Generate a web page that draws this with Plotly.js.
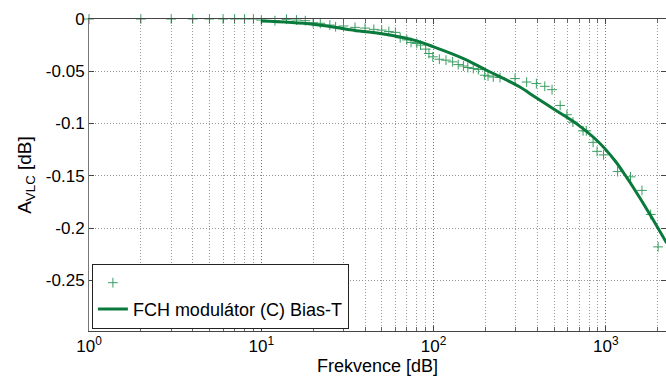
<!DOCTYPE html>
<html><head><meta charset="utf-8">
<script src="https://cdn.plot.ly/plotly-3.0.1.min.js"></script>
<style>body{margin:0;background:#fff}#c{width:666px;height:379px}</style>
</head><body><div id="c"></div>
<script>
const markerFreq = [1,2,3,4,5,6,7,8,9,10,12,14,16,18,20,22,25,27,30,35,40,45,50,55,60,64,70,74,80,84,90,94,99,108,118,129,139,149,158,170,182,198,207,222,243,297,347,395,442,487,543,594,644,737,770,843,889,970,1170,1390,1620,1820,2010];
const markerVal = [0,0,0,0,0,0,0,0,0,-0.001,-0.0016,-0.0003,-0.001,-0.0016,-0.0036,-0.0041,-0.0058,-0.0074,-0.0067,-0.008,-0.0087,-0.0099,-0.0106,-0.012,-0.0128,-0.018,-0.020,-0.0224,-0.0234,-0.025,-0.0288,-0.033,-0.0362,-0.0385,-0.0394,-0.041,-0.0436,-0.045,-0.0464,-0.0474,-0.0484,-0.0538,-0.0545,-0.0555,-0.056,-0.057,-0.0603,-0.0618,-0.0644,-0.0676,-0.0827,-0.0916,-0.0987,-0.107,-0.107,-0.118,-0.1266,-0.13,-0.146,-0.151,-0.164,-0.187,-0.218];
const lineFreq = [10,20,37,49,76,100,149,203,317,363,495,677,885,1130,1321,1443,1803,2254];
const lineVal = [-0.002,-0.005,-0.0115,-0.0138,-0.020,-0.0266,-0.0378,-0.049,-0.065,-0.0714,-0.0859,-0.1003,-0.116,-0.1356,-0.1516,-0.1612,-0.187,-0.2144];
const xTickVals = [1,10,100,1000];
const xTickText = ['10<sup>0</sup>','10<sup>1</sup>','10<sup>2</sup>','10<sup>3</sup>'];
const xMinorVals = [2,3,4,5,6,7,8,9,20,30,40,50,60,70,80,90,200,300,400,500,600,700,800,900,2000];
const yTickVals = [0,-0.05,-0.1,-0.15,-0.2,-0.25];
const yTickText = ['0','-0.05','-0.1','-0.15','-0.2','-0.25'];
const lineName = 'FCH modulátor (C) Bias-T';

const traces = [
 {x: markerFreq, y: markerVal, mode:'markers', type:'scatter', name:' ',
  marker:{symbol:'cross-thin-open', size:7, color:'#3a9d62', line:{width:1, color:'#3a9d62'}}, cliponaxis:false},
 {x: lineFreq, y: lineVal, mode:'lines', type:'scatter', name: lineName,
  line:{color:'#0a7a3c', width:3, shape:'spline', smoothing:1}}
];
const gridDash = '1px,2px';
const layout = {
 width:666, height:379,
 margin:{l:89, r:0, t:19, b:48},
 paper_bgcolor:'#fff', plot_bgcolor:'#fff',
 font:{family:'Liberation Sans, Arial, sans-serif', size:17, color:'#000'},
 showlegend:true,
 legend:{x:0.005, y:0.008, xanchor:'left', yanchor:'bottom', bgcolor:'#fff', bordercolor:'#222', borderwidth:1,
   font:{size:18, color:'#000'}, itemwidth:30, tracegroupgap:0},
 xaxis:{type:'log', range:[0, 3.349], tickmode:'array', tickvals:xTickVals, ticktext:xTickText,
   showgrid:true, gridcolor:'#777', griddash:gridDash, gridwidth:1,
   ticks:'inside', ticklen:5, tickcolor:'#444', showline:true, linecolor:'#444', mirror:'allticks',
   minor:{tickmode:'array', tickvals:xMinorVals, showgrid:true, gridcolor:'#999', griddash:gridDash, gridwidth:1, ticks:'inside', ticklen:4, tickcolor:'#666'},
   zeroline:false, tickfont:{size:17},
   title:{text:'Frekvence [dB]', font:{size:18}, standoff:3}},
 yaxis:{range:[-0.2985, 0], tickmode:'array', tickvals:yTickVals, ticktext:yTickText,
   showgrid:true, gridcolor:'#999', griddash:gridDash, gridwidth:1,
   ticks:'inside', ticklen:5, tickcolor:'#444', showline:true, linecolor:'#777', mirror:'ticks',
   zeroline:false, tickfont:{size:17},
   title:{text:'A<sub>VLC</sub> [dB]', font:{size:19}, standoff:9}}
};
Plotly.newPlot('c', traces, layout, {displayModeBar:false, staticPlot:true});
</script></body></html>
